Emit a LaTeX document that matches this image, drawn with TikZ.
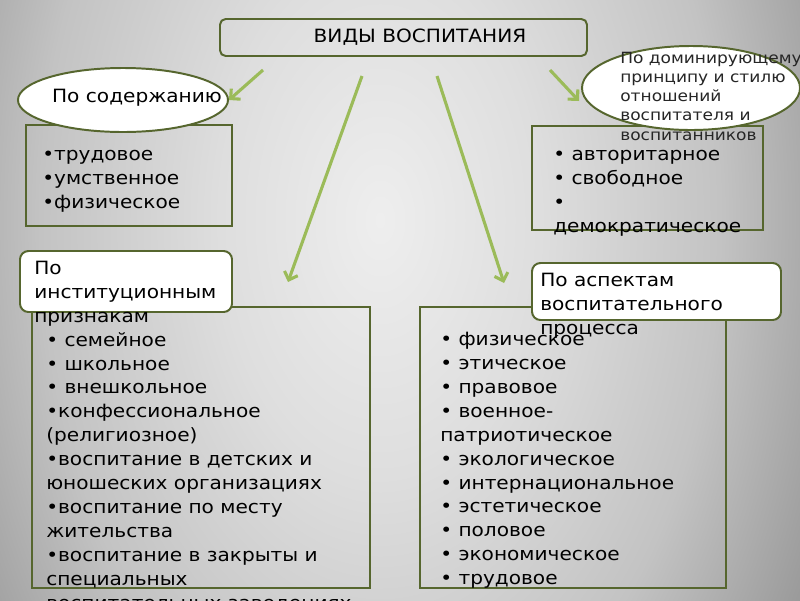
\documentclass[tikz,border=0pt]{standalone}
\usepackage{fontspec}
\setmainfont{DejaVu Sans}[FakeStretch=1.1]
\usetikzlibrary{arrows.meta,fit,shapes.geometric}
\definecolor{boxline}{RGB}{86,102,46}
\definecolor{arrowgreen}{RGB}{155,187,89}
\definecolor{bgtop}{RGB}{238,238,238}
\definecolor{bglight}{RGB}{222,222,222}
\definecolor{bgsoft}{RGB}{195,195,195}
\definecolor{bgmid}{RGB}{132,132,132}
\definecolor{bgedge}{RGB}{100,100,100}
\pgfdeclareradialshading{slideglow}{\pgfpoint{0bp}{0bp}}{color(0bp)=(bgtop); color(8bp)=(bglight); color(17bp)=(bgsoft); color(28bp)=(bgmid); color(36bp)=(bgedge); color(50bp)=(bgedge)}

\begin{document}
\begin{tikzpicture}[x=0.025cm, y=-0.025cm, >={Straight Barb[length=5pt,width=10pt]},
    frame/.style={draw=boxline, line width=1.4pt, inner sep=0pt},
    roundframe/.style={frame, rounded corners=6pt, fill=white},
    oval/.style={draw=boxline, line width=1.4pt, fill=white, ellipse, inner sep=0pt},
    txt/.style={anchor=north west, inner sep=0pt, align=left, font=\fontsize{13}{17}\selectfont, execute at begin node=\strut},
    smalltxt/.style={txt, font=\fontsize{11}{13.6}\selectfont, text=black!85},
    link/.style={->, draw=arrowgreen, line width=2.2pt}]
    % Background
    \useasboundingbox (0,0) rectangle (800,600);
    \clip (0,0) rectangle (800,600);
    \fill[bgedge] (0,0) rectangle (800,600);
    \shade[shading=slideglow] (380,220) ellipse (500 and 800);

    % Title
    \node[frame, rounded corners=4pt, fit={(220,19) (587,56)}] (title) {};
    \node[font=\fontsize{13}{17}\selectfont] (titletext) at (420,37) {ВИДЫ ВОСПИТАНИЯ};

    % Frames
    \node[frame, fit={(26,125) (232,226)}] (contentbox) {};
    \node[frame, fit={(532,126) (763,230)}] (stylebox) {};
    \node[frame, fit={(32,307) (370,588)}] (instbox) {};
    \node[frame, fit={(420,307) (726,588)}] (aspectbox) {};

    % Headers
    \node[oval, minimum width=5.25cm, minimum height=1.6cm] (contentoval) at (123,100) {};
    \node[oval, minimum width=5.45cm, minimum height=2.1cm] (styleoval) at (691,88) {};
    \node[roundframe, fit={(20,251) (232,312)}] (insthead) {};
    \node[roundframe, fit={(532,263) (781,320)}] (aspecthead) {};

    % Texts
    \node[font=\fontsize{13}{17}\selectfont] (contentlabel) at (137,98) {По содержанию};
    \node[smalltxt] (stylelabel) at (620,52) {По доминирующему\\принципу и стилю\\отношений\\воспитателя и\\воспитанников};
    \node[txt] (instlabel) at (34,261) {По\\институционным\\признакам};
    \node[txt] (aspectlabel) at (540,273) {По аспектам\\воспитательного\\процесса};
    \node[txt] (contentlist) at (42,150) {•трудовое\\•умственное\\•физическое};
    \node[txt] (stylelist) at (553,150) {• авторитарное\\• свободное\\•\\демократическое};
    \node[txt] (instlist) at (46,332) {• семейное\\• школьное\\• внешкольное\\•конфессиональное\\(религиозное)\\•воспитание в детских и\\юношеских организациях\\•воспитание по месту\\жительства\\•воспитание в закрыты и\\специальных\\воспитательных заведениях};
    \node[txt] (aspectlist) at (440,332) {• физическое\\• этическое\\• правовое\\• военное-\\патриотическое\\• экологическое\\• интернациональное\\• эстетическое\\• половое\\• экономическое\\• трудовое};

    % Arrows
    \coordinate (a1s) at (263,70);
    \coordinate (a2s) at (362,76);
    \coordinate (a2e) at (288,282);
    \coordinate (a3s) at (437,76);
    \coordinate (a3e) at (504,283);
    \coordinate (a4s) at (550,70);
    \coordinate (a4e) at (579,101);
    \draw[link] (a1s) -- (contentoval.east);
    \draw[link] (a2s) -- (a2e);
    \draw[link] (a3s) -- (a3e);
    \draw[link] (a4s) -- (a4e);
\end{tikzpicture}
\end{document}
